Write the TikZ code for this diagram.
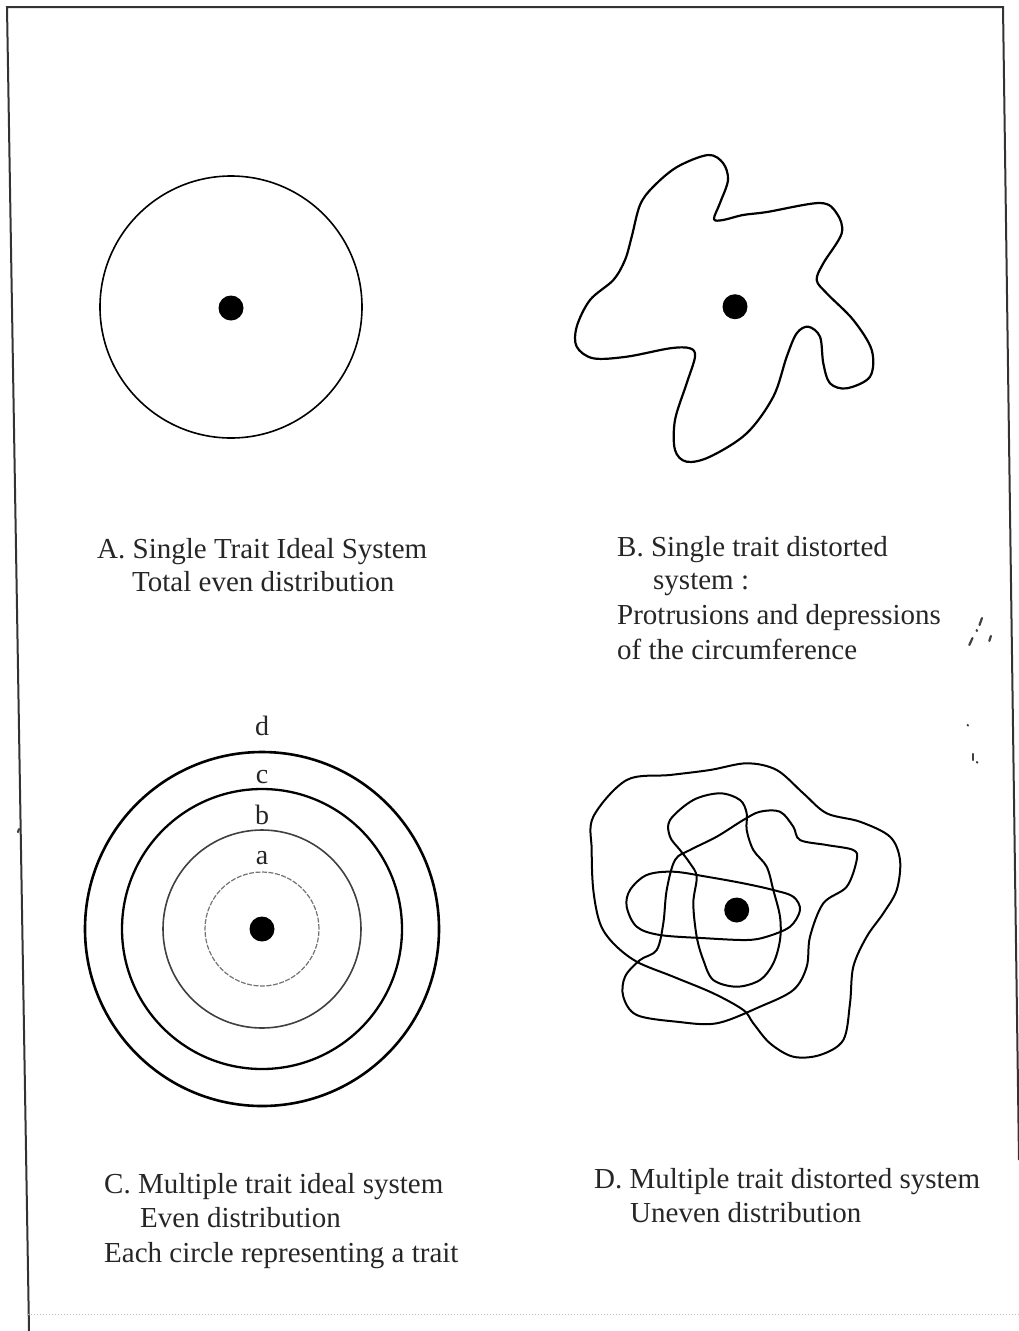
\documentclass[tikz,border=0pt]{standalone}
\usepackage{fontspec}
\setmainfont{Liberation Serif}
\begin{document}
\begin{tikzpicture}[x=1pt,y=-1pt,
  lbl/.style={anchor=base west,inner sep=0pt,font=\fontsize{29}{34}\selectfont,text=black!85},
  ltr/.style={anchor=center,inner sep=0pt,font=\fontsize{28}{30}\selectfont,text=black!85},
  dotnode/.style={circle,fill=black,inner sep=0pt,minimum size=25pt},
  ring/.style={circle,draw=black,inner sep=0pt},
  blob/.style={draw=black,line width=2pt,line join=round},
  frame/.style={draw=black!80,line width=2pt},
  speck/.style={draw=black!75,line width=2.2pt,line cap=round}]
\useasboundingbox (0,0) rectangle (1019,1331);
% frame
\coordinate (f1) at (7,7);
\coordinate (f2) at (1003,7);
\coordinate (f3) at (1019,1160);
\coordinate (f4) at (29,1331);
\coordinate (b1) at (28,1314);
\coordinate (b2) at (1019,1314);
\draw[frame] (f4) -- (f1) -- (f2) -- (f3);
\draw[draw=black!25,line width=1pt,dotted] (b1) -- (b2);
% ---------- A ----------
\node[ring,line width=1.6pt,minimum size=262pt] (cA) at (231,307) {};
\node[dotnode] (dA) at (231,308) {};
% ---------- B ----------
\draw[blob,line width=2.2pt] plot[smooth cycle,tension=0.55] coordinates {
 (631.7,236.7) (640,205) (653,187) (677,167) (708,155) (723,163) (728,180)
 (720,203) (714,219) (723,220) (743,215) (767,212) (820,203) (836.7,213.3)
 (841.7,233.3) (823.3,263.3) (816.7,280) (826.7,293.3) (853.3,320) (871.7,350)
 (870,376.7) (846.7,388.3) (830,383.3) (823.3,363.3) (820,336.7) (808.3,326.7)
 (796.7,333.3) (786.7,356.7) (773.3,396.7) (746.7,433.3) (710,456.7) (686.7,461.7)
 (675,450) (675,420) (686.7,383.3) (695,356.7) (690,348.3) (670,348.3)
 (626.7,356.7) (593.3,358.3) (576.7,346.7) (576.7,326.7) (590,300) (613.3,280) (625,260)};
\node[dotnode] (dB) at (735,306.7) {};
% ---------- C ----------
\node[ring,line width=2.6pt,minimum size=354pt] (c4) at (262,929) {};
\node[ring,line width=2.3pt,minimum size=280pt] (c3) at (262,929) {};
\node[ring,line width=1.6pt,draw=black!75,minimum size=198pt] (c2) at (262,929) {};
\node[ring,line width=1.2pt,draw=black!55,dash pattern=on 5pt off 1.5pt,minimum size=114pt] (c1) at (262,929) {};
\node[dotnode] (dC) at (262,929) {};
\node[ltr] (ld) at (262,726) {d};
\node[ltr] (lc) at (262,777) {c};
\node[ltr] (lb) at (262,815) {b};
\node[ltr] (la) at (262,858) {a};
% ---------- D ----------
\draw[blob] plot[smooth cycle,tension=0.55] coordinates {
 (593.3,816.7) (626.7,780) (670,775) (710,770) (746.7,763.3) (776.7,770)
 (803.3,793.3) (826.7,813.3) (860,821.7) (890,836.7) (900,860) (896.7,890)
 (883.3,913.3) (866.7,936.7) (853.3,966.7) (850,1003.3) (843.3,1040) (820,1055)
 (793.3,1056.7) (770,1043.3) (753.3,1023.3) (743.3,1010) (713.3,993.3)
 (673.3,976.7) (636.7,961.7) (613.3,943.3) (600,923.3) (593.3,890) (591.7,850)};
\draw[blob] plot[smooth cycle,tension=0.55] coordinates {
 (856.7,860) (846.7,886.7) (823.3,903.3) (810,936.7) (806.7,966.7) (793.3,990)
 (760,1006.7) (716.7,1023.3) (676.7,1021.7) (636.7,1015) (623.3,996.7) (625,976.7)
 (640,960) (656.7,950) (663.3,923.3) (666.7,890) (675,860) (690,850) (716.7,836.7)
 (743.3,820) (760,811.7) (780,811.7) (793.3,826.7) (800,840) (826.7,845) (853.3,850)};
\draw[blob] plot[smooth cycle,tension=0.55] coordinates {
 (670,820) (693.3,800) (720,793.3) (740,800) (746.7,813.3) (746.7,830) (753.3,850)
 (766.7,866.7) (773.3,890) (780,916.7) (780,940) (773.3,963.3) (760,980)
 (736.7,986.7) (713.3,980) (703.3,960) (696.7,936.7) (693.3,903.3) (696.7,876.7)
 (690,863.3) (680,850) (670,836.7)};
\draw[blob] plot[smooth cycle,tension=0.55] coordinates {
 (630,890) (646.7,875) (673.3,871.7) (706.7,876.7) (743.3,883.3) (773.3,890)
 (793.3,896.7) (800,910) (790,926.7) (766.7,936.7) (746.7,940) (706.7,938.3)
 (660,935) (636.7,926.7) (626.7,906.7)};
\node[dotnode] (dD) at (736.7,910) {};
% ---------- labels ----------
\node[lbl] (tA1) at (97,558) {A. Single Trait Ideal System};
\node[lbl] (tA2) at (132,591) {Total even distribution};
\node[lbl] (tB1) at (617,556) {B. Single trait distorted};
\node[lbl] (tB2) at (653,589) {system :};
\node[lbl] (tB3) at (617,624) {Protrusions and depressions};
\node[lbl] (tB4) at (617,659) {of the circumference};
\node[lbl] (tC1) at (104,1193) {C. Multiple trait ideal system};
\node[lbl] (tC2) at (140,1227) {Even distribution};
\node[lbl] (tC3) at (104,1262) {Each circle representing a trait};
\node[lbl] (tD1) at (594,1188) {D. Multiple trait distorted system};
\node[lbl] (tD2) at (630,1222) {Uneven distribution};
% ---------- specks ----------
\coordinate (s1) at (982,618); \coordinate (s2) at (979.5,625);
\coordinate (s3) at (976.7,630); \coordinate (s4) at (976.9,631);
\coordinate (s5) at (972.5,638); \coordinate (s6) at (969.3,645);
\coordinate (s7) at (990.9,636); \coordinate (s8) at (989.3,641);
\coordinate (s9) at (967.7,725); \coordinate (s10) at (967.9,725.5);
\coordinate (s11) at (972.7,754); \coordinate (s12) at (972.7,760);
\coordinate (s13) at (977,762); \coordinate (s14) at (977.3,762.6);
\coordinate (s15) at (19,829); \coordinate (s16) at (18,832);
\draw[speck] (s1) -- (s2); \draw[speck] (s3) -- (s4); \draw[speck] (s5) -- (s6);
\draw[speck] (s7) -- (s8); \draw[speck] (s9) -- (s10); \draw[speck] (s11) -- (s12);
\draw[speck] (s13) -- (s14); \draw[speck] (s15) -- (s16);
\end{tikzpicture}
\end{document}
